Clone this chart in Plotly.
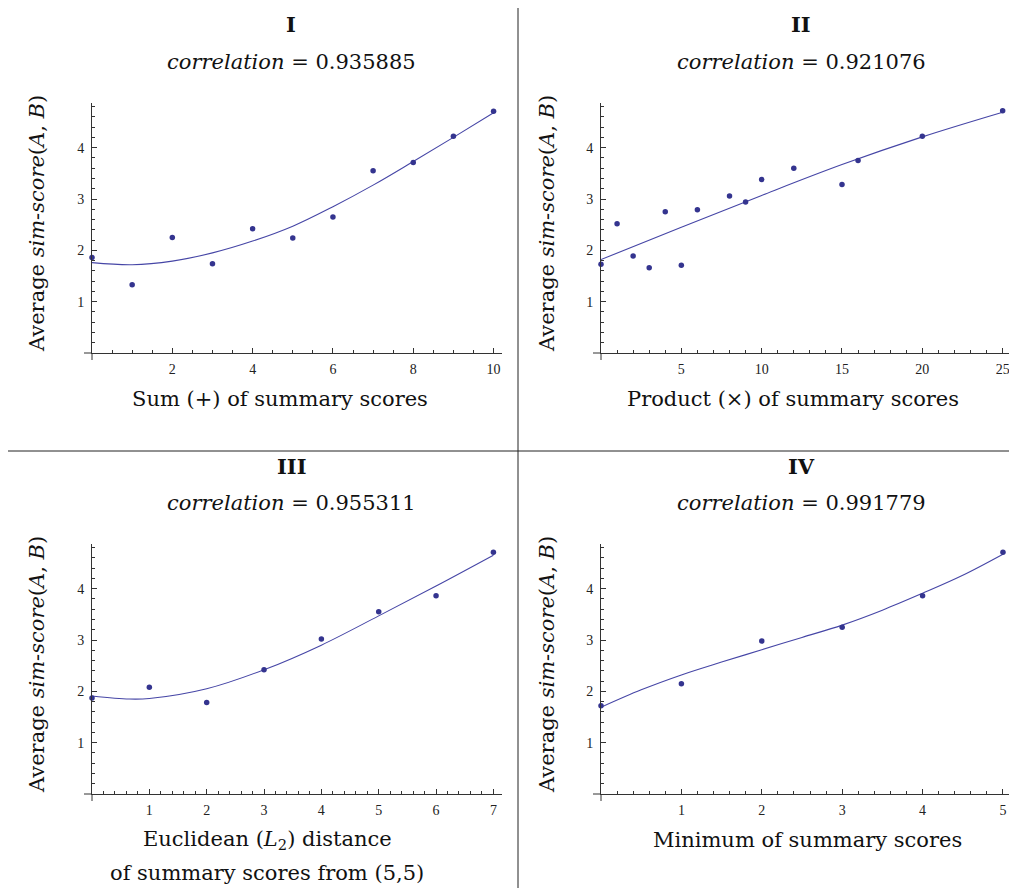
import plotly.graph_objects as go

# The page body has an 8px margin, so the figure is drawn 8px in from the window edge.
OFF = 8
W, H = 1017 - OFF, 888 - OFF

# ---------------- data ----------------
# Panel I : Sum (+) of summary scores
sum_x = [0, 1, 2, 3, 4, 5, 6, 7, 8, 9, 10]
sum_y = [1.86, 1.33, 2.25, 1.74, 2.42, 2.24, 2.65, 3.55, 3.71, 4.22, 4.71]
sum_fit_x = [0, 1, 2, 3, 4, 5, 6, 7, 8, 9, 10]
sum_fit_y = [1.76, 1.72, 1.79, 1.95, 2.18, 2.47, 2.85, 3.27, 3.73, 4.20, 4.68]

# Panel II : Product (x) of summary scores
prod_x = [0, 1, 2, 3, 4, 5, 6, 8, 9, 10, 12, 15, 16, 20, 25]
prod_y = [1.73, 2.52, 1.89, 1.66, 2.75, 1.71, 2.79, 3.06, 2.94, 3.38, 3.60, 3.28, 3.75, 4.22, 4.72]
prod_fit_x = [0, 5, 10, 15, 20, 25]
prod_fit_y = [1.82, 2.45, 3.07, 3.67, 4.21, 4.69]

# Panel III : Euclidean (L2) distance from (5,5)
l2_x = [0, 1, 2, 3, 4, 5, 6, 7]
l2_y = [1.87, 2.08, 1.78, 2.42, 3.02, 3.55, 3.86, 4.71]
l2_fit_x = [0, 0.65, 1, 2, 3, 4, 5, 6, 7]
l2_fit_y = [1.91, 1.85, 1.86, 2.05, 2.42, 2.90, 3.47, 4.05, 4.65]

# Panel IV : Minimum of summary scores
min_x = [0, 1, 2, 3, 4, 5]
min_y = [1.72, 2.15, 2.98, 3.25, 3.86, 4.71]
min_fit_x = [0, 0.5, 1, 1.5, 2, 2.5, 3, 3.5, 4, 4.5, 5]
min_fit_y = [1.69, 2.03, 2.32, 2.57, 2.81, 3.05, 3.29, 3.58, 3.91, 4.26, 4.67]

titles = ["I", "II", "III", "IV"]
correlations = ["0.935885", "0.921076", "0.955311", "0.991779"]
x_titles = [
    "Sum (+) of summary scores",
    "Product (\u00d7) of summary scores",
    "Euclidean (<i>L</i><sub>2</sub>) distance",
    "Minimum of summary scores",
]
x_title_2 = "of summary scores from (5,5)"
y_title = "Average <i>sim-score</i>(<i>A</i>, <i>B</i>)"

x_ticks = [[2, 4, 6, 8, 10], [5, 10, 15, 20, 25], [1, 2, 3, 4, 5, 6, 7], [1, 2, 3, 4, 5]]
x_minor = [0.5, 1, 0.2, 0.2]
x_max = [10.21, 25.52, 7.15, 5.10]
y_ticks = [1, 2, 3, 4]
y_max = 4.87

# ---------------- layout geometry (window pixels) ----------------
FONT = "DejaVu Serif"
TICK_FONT = "Liberation Serif"
PT_COLOR = "#34348f"
LINE_COLOR = "#4646a6"
AX_COLOR = "#333333"
TXT = "#111111"

col_px = [(92, 502), (601, 1011)]
row_px = [(103, 353), (544, 794)]  # top, bottom (from page top)


def px_x(p):
    return (p - OFF) / W


def px_y(p):
    return 1 - (p - OFF) / H


fig = go.Figure()

panels = [
    (sum_x, sum_y, sum_fit_x, sum_fit_y),
    (prod_x, prod_y, prod_fit_x, prod_fit_y),
    (l2_x, l2_y, l2_fit_x, l2_fit_y),
    (min_x, min_y, min_fit_x, min_fit_y),
]

shapes = []
annotations = []
layout_axes = {}


def txt(text, x, y, size=21, angle=0):
    return dict(text=text, x=px_x(x), y=px_y(y), xref="paper", yref="paper", showarrow=False,
                xanchor="center", yanchor="middle", textangle=angle,
                font=dict(family=FONT, size=size, color=TXT))


for i, (px_, py_, fx, fy) in enumerate(panels):
    r, c = divmod(i, 2)
    xa = "x" if i == 0 else f"x{i+1}"
    ya = "y" if i == 0 else f"y{i+1}"
    fig.add_trace(go.Scatter(x=fx, y=fy, mode="lines",
                             line=dict(color=LINE_COLOR, width=1.1, shape="spline", smoothing=1.0),
                             xaxis=xa, yaxis=ya, showlegend=False, hoverinfo="skip"))
    fig.add_trace(go.Scatter(x=px_, y=py_, mode="markers", marker=dict(color=PT_COLOR, size=5.5),
                             xaxis=xa, yaxis=ya, showlegend=False, cliponaxis=False))

    x0p, x1p = col_px[c]
    y0p, y1p = row_px[r]
    xkey = "xaxis" if i == 0 else f"xaxis{i+1}"
    ykey = "yaxis" if i == 0 else f"yaxis{i+1}"
    layout_axes[xkey] = dict(
        domain=[px_x(x0p), px_x(x1p)], anchor=ya, range=[0, x_max[i]],
        showgrid=False, zeroline=False, showline=True, linecolor=AX_COLOR, linewidth=1,
        tickmode="array", tickvals=x_ticks[i], ticks="inside", ticklen=5, tickwidth=1, tickcolor=AX_COLOR,
        minor=dict(tickmode="linear", tick0=0, dtick=x_minor[i], ticks="inside", ticklen=3,
                   tickcolor=AX_COLOR, tickwidth=1),
        tickfont=dict(family=TICK_FONT, size=14, color="#222"), ticklabelstandoff=3, fixedrange=True,
    )
    layout_axes[ykey] = dict(
        domain=[px_y(y1p), px_y(y0p)], anchor=xa, range=[0, y_max],
        showgrid=False, zeroline=False, showline=True, linecolor=AX_COLOR, linewidth=1,
        tickmode="array", tickvals=y_ticks, ticks="inside", ticklen=5, tickwidth=1, tickcolor=AX_COLOR,
        minor=dict(tickmode="linear", tick0=0, dtick=0.2, ticks="inside", ticklen=3,
                   tickcolor=AX_COLOR, tickwidth=1),
        tickfont=dict(family=TICK_FONT, size=14, color="#222"), ticklabelstandoff=4, fixedrange=True,
    )
    # axis overshoot past origin (axes cross at the origin)
    shapes.append(dict(type="line", xref="paper", yref="paper", x0=px_x(x0p), x1=px_x(x0p),
                       y0=px_y(y1p), y1=px_y(y1p + 7), line=dict(color=AX_COLOR, width=1)))
    shapes.append(dict(type="line", xref="paper", yref="paper", x0=px_x(x0p - 8), x1=px_x(x0p),
                       y0=px_y(y1p), y1=px_y(y1p), line=dict(color=AX_COLOR, width=1)))

    tcx = [291, 801][c]
    base = [0, 441][r]
    annotations.append(txt(f"<b>{titles[i]}</b>", tcx, base + 25))
    annotations.append(txt(f"<i>correlation</i> = {correlations[i]}", tcx, base + 62))
    xcx = [[280, 793], [267, 807]][r][c]
    annotations.append(txt(x_titles[i], xcx, base + 399))
    if i == 2:
        annotations.append(txt(x_title_2, xcx, base + 432))
    ycx = [37, 547][c]
    annotations.append(txt(y_title, ycx, base + 224, angle=-90))

# panel separators
shapes.append(dict(type="line", xref="paper", yref="paper", x0=px_x(518), x1=px_x(518), y0=0, y1=1,
                   line=dict(color="#222", width=1)))
shapes.append(dict(type="line", xref="paper", yref="paper", x0=px_x(0), x1=1, y0=px_y(451), y1=px_y(451),
                   line=dict(color="#222", width=1)))

fig.update_layout(
    width=W, height=H, margin=dict(l=0, r=0, t=0, b=0),
    paper_bgcolor="white", plot_bgcolor="white",
    shapes=shapes, annotations=annotations, **layout_axes,
)

fig.write_html("out.html")
